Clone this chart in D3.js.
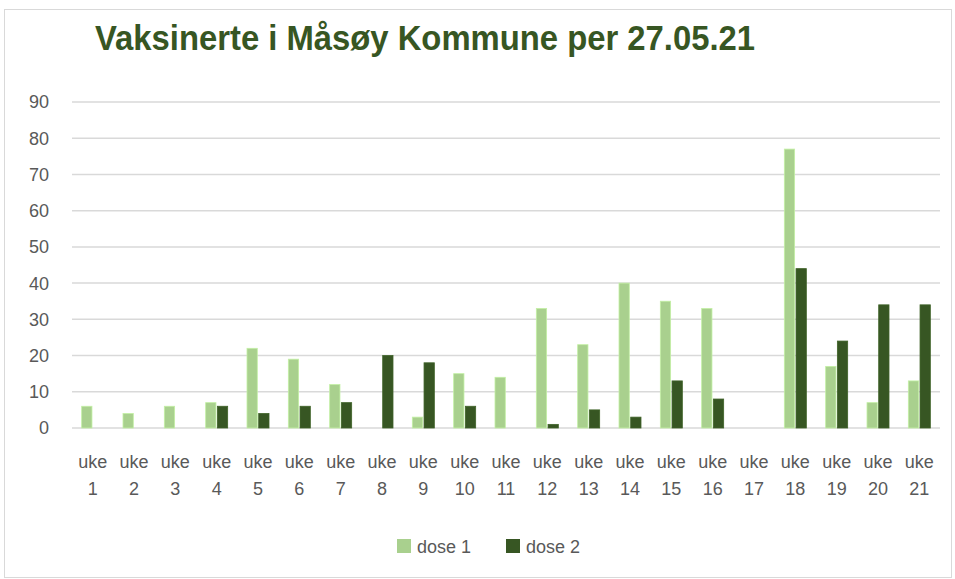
<!DOCTYPE html>
<html>
<head>
<meta charset="utf-8">
<script src="https://cdn.jsdelivr.net/npm/d3@7"></script>
<style>
  body { margin: 0; background: #fff; }
  svg text { font-family: "Liberation Sans Narrow", "Liberation Sans", Arial, sans-serif; }
</style>
</head>
<body>
<svg id="chart" width="955" height="579"></svg>
<script>
const weeks = d3.range(1, 22).map((d) => "uke " + d);
const dose1 = [6, 4, 6, 7, 22, 19, 12, 0, 3, 15, 14, 33, 23, 40, 35, 33, 0, 77, 17, 7, 13];
const dose2 = [0, 0, 0, 6, 4, 6, 7, 20, 18, 6, 0, 1, 5, 3, 13, 8, 0, 44, 24, 34, 34];
const yTicks = [0, 10, 20, 30, 40, 50, 60, 70, 80, 90];
const seriesNames = ["dose 1", "dose 2"];
const colors = ["#a9d08e", "#375623"];

const svg = d3.select("#chart");
const margin = { left: 72, right: 15, top: 102, bottom: 151 };
const width = 955 - margin.left - margin.right;
const height = 579 - margin.top - margin.bottom;

// chart border
svg.append("rect")
  .attr("x", 4.5).attr("y", 9.5)
  .attr("width", 947).attr("height", 568)
  .attr("fill", "#fff")
  .attr("stroke", "#d9d9d9");

svg.append("text")
  .attr("x", 95)
  .attr("y", 50)
  .attr("fill", "#375623")
  .style("font-size", "35px")
  .style("font-weight", "bold")
  .attr("textLength", 660)
  .attr("lengthAdjust", "spacingAndGlyphs")
  .text("Vaksinerte i Måsøy Kommune per 27.05.21");

const g = svg.append("g").attr("transform", `translate(${margin.left},${margin.top})`);

let x = d3.scaleBand().domain(weeks).range([0, width]);
let y = d3.scaleLinear().domain([0, 90]).range([height, 0]);
let xs = d3.scaleBand().domain([0, 1]).range([x.bandwidth() / 2 - 11, x.bandwidth() / 2 + 11]).paddingInner(0.12);

g.selectAll("line.grid")
  .data(yTicks)
  .enter()
  .append("line")
  .attr("class", "grid")
  .attr("x1", 0)
  .attr("x2", width)
  .attr("y1", (d) => y(d))
  .attr("y2", (d) => y(d))
  .attr("stroke", "#d9d9d9")
  .attr("stroke-width", 1.5);

g.selectAll("text.ytick")
  .data(yTicks)
  .enter()
  .append("text")
  .attr("class", "ytick")
  .attr("x", -23)
  .attr("y", (d) => y(d))
  .attr("dy", "0.36em")
  .attr("text-anchor", "end")
  .attr("fill", "#595959")
  .style("font-size", "18px")
  .text((d) => d);

[dose1, dose2].forEach((vals, si) => {
  g.selectAll("rect.s" + si)
    .data(vals)
    .enter()
    .append("rect")
    .attr("class", "s" + si)
    .attr("x", (d, i) => x(weeks[i]) + xs(si))
    .attr("width", xs.bandwidth())
    .attr("y", (d) => y(d))
    .attr("height", (d) => height - y(d))
    .attr("fill", colors[si])
    .attr("stroke", d3.color(colors[si]).brighter(0.4))
    .attr("stroke-width", 0.8)
    .style("display", (d) => (d > 0 ? null : "none"));
});

const xl = g.selectAll("text.xtick")
  .data(weeks)
  .enter()
  .append("text")
  .attr("class", "xtick")
  .attr("text-anchor", "middle")
  .attr("fill", "#595959")
  .style("font-size", "18px");
xl.append("tspan")
  .attr("x", (d) => x(d) + x.bandwidth() / 2)
  .attr("y", height + 40)
  .text((d) => d.split(" ")[0]);
xl.append("tspan")
  .attr("x", (d) => x(d) + x.bandwidth() / 2)
  .attr("y", height + 67)
  .text((d) => d.split(" ")[1]);

const legend = svg.append("g").attr("transform", "translate(397,539)");
const li = legend.selectAll("g")
  .data(seriesNames)
  .enter()
  .append("g")
  .attr("transform", (d, i) => `translate(${i * 109},0)`);
li.append("rect")
  .attr("width", 14).attr("height", 14)
  .attr("fill", (d, i) => colors[i]);
li.append("text")
  .attr("x", 20).attr("y", 14)
  .attr("fill", "#595959")
  .style("font-size", "18px")
  .text((d) => d);
</script>
</body>
</html>
